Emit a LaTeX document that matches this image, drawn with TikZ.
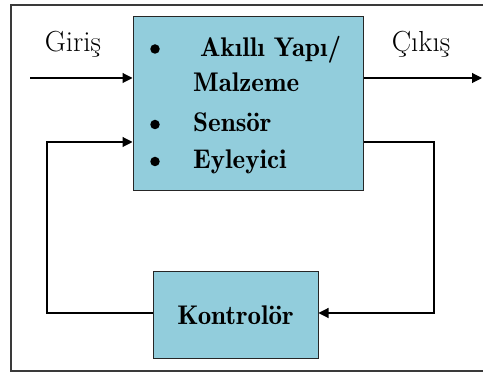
\documentclass[tikz,border=0pt]{standalone}
\usepackage{fontspec}
\newfontfamily\demifont{lmromandemi10-regular.otf}
\usetikzlibrary{arrows.meta}
\definecolor{boxfill}{HTML}{92CDDC}
\definecolor{frameline}{HTML}{3A3A3A}
\begin{document}
\begin{tikzpicture}[x=1pt,y=-1pt,
  block/.style={draw=black!85,line width=1pt,fill=boxfill,inner sep=0pt},
  wire/.style={draw=black,line width=1.1pt},
  arr/.style={wire,-{Triangle[length=10pt,width=10pt]}},
  lbl/.style={font=\fontsize{29}{34}\selectfont,inner sep=0pt,anchor=base},
  item/.style={font=\fontsize{27}{32}\selectfont\demifont,inner sep=0pt,anchor=base west},
  dot/.style={circle,fill=black,inner sep=0pt,minimum size=9.5pt}]
  \useasboundingbox (0,0) rectangle (483,374);
  % outer frame, open on the right
  \draw[frameline,line width=1.2pt] (483,5) -- (11,5) -- (11,371) -- (483,371);

  % main block with its bulleted list
  \node[block,minimum width=230pt,minimum height=174pt] (main) at (248,104) {};
  \node[dot] (b1) at (155,49) {};
  \node[item] (t1) at (200,57) {Akıllı Yapı/};
  \node[item] (t2) at (193,92) {Malzeme};
  \node[dot] (b2) at (155,124.5) {};
  \node[item] (t3) at (193,132) {Sensör};
  \node[dot] (b3) at (155,161.5) {};
  \node[item] (t4) at (193,169) {Eyleyici};

  % controller block
  \node[block,minimum width=165pt,minimum height=87pt,
        font=\fontsize{27}{32}\selectfont\demifont] (ctrl) at (235.5,315.5) {Kontrolör};

  % input / output labels
  \node[lbl] (in) at (73,52) {Giriş};
  \node[lbl] (out) at (421,52) {Çıkış};

  % end points of the open connectors
  \coordinate (src) at (30,78);
  \coordinate (snk) at (482,78);
  \coordinate (r1) at (434,142);
  \coordinate (r2) at (434,313);
  \coordinate (l1) at (47,313);
  \coordinate (l2) at (47,142);

  % signal flow
  \draw[arr] (src) -- (src -| main.west);
  \draw[arr] (main.east |- snk) -- (snk);
  \draw[arr] (main.east |- r1) -- (r1) -- (r2) -- (ctrl.east |- r2);
  \draw[arr] (ctrl.west |- l1) -- (l1) -- (l2) -- (main.west |- l2);
\end{tikzpicture}
\end{document}
